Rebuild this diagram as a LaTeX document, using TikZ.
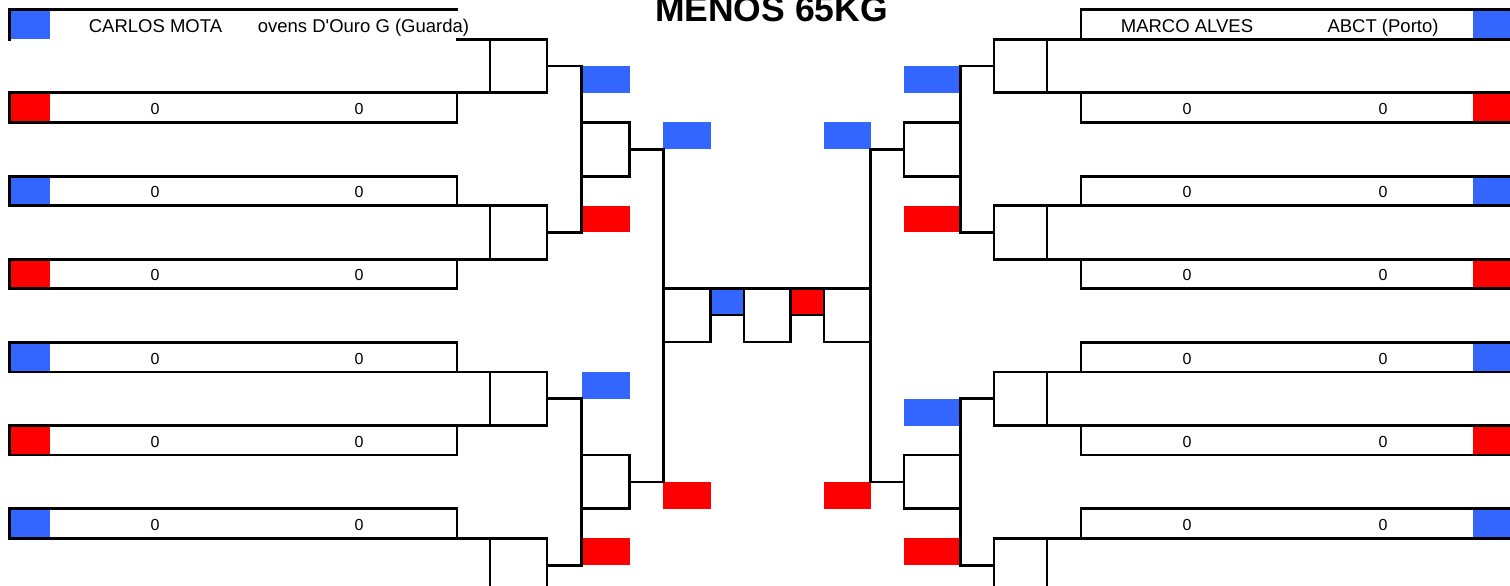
\documentclass[tikz,border=0pt]{standalone}
\usepackage{fontspec}
\setmainfont{Liberation Sans}
\newfontfamily\plainsans{Liberation Sans}
\definecolor{cblue}{HTML}{3366FF}
\definecolor{cred}{HTML}{FF0000}
\tikzset{
  ln/.style={line width=1.45pt, line cap=rect, draw=black},
  rowL/.style={rectangle, inner sep=0pt, outer sep=0pt, anchor=north west, minimum width=223.75pt, minimum height=14.75pt},
  rowR/.style={rowL, minimum width=219.5pt},
  mbox/.style={rectangle, ln, inner sep=0pt, outer sep=0pt, anchor=north west, minimum width=28.5pt, minimum height=26.75pt},
  mboxR/.style={mbox, minimum width=26.5pt},
  sboxL/.style={mbox, minimum width=24pt, minimum height=26.95pt},
  sboxR/.style={mbox, minimum width=28.25pt, minimum height=26.95pt},
  cbox/.style={mbox, minimum height=26.7pt},
  cell/.style={rectangle, ln, inner sep=0pt, outer sep=0pt, anchor=north west, minimum width=16.75pt, minimum height=13.2pt},
  nm/.style={inner sep=0pt, anchor=base, font=\plainsans\fontsize{9.25pt}{11pt}\selectfont},
  sc/.style={inner sep=0pt, anchor=base, font=\fontsize{8pt}{10pt}\selectfont},
  ttl/.style={inner sep=0pt, anchor=base, font=\fontsize{17.75pt}{20pt}\selectfont\bfseries},
}
\begin{document}
\begin{tikzpicture}[x=0.5pt,y=-0.5pt]
\useasboundingbox (0,0) rectangle (1510,585);
\clip (0,0) rectangle (1510,585);

% ---------- first round rows and match boxes ----------
\foreach \k in {0,1,2,3} {
  \pgfmathsetmacro{\ty}{9.7+166.4*\k}
  \pgfmathsetmacro{\uy}{\ty+83}
  \pgfmathsetmacro{\my}{\ty+29.5}
  \node[rowL] (LB\k) at (9.5,\ty) {};
  \node[rowL] (LR\k) at (9.5,\uy) {};
  \node[rowR] (RB\k) at (1081,\ty) {};
  \node[rowR] (RR\k) at (1081,\uy) {};
  % colour flags
  \fill[cblue] (LB\k.north west) rectangle ++(40.5,29.5);
  \fill[cred]  (LR\k.north west) rectangle ++(40.5,29.5);
  \fill[cblue] (1473,\ty) rectangle (1515,{\ty+29.5});
  \fill[cred]  (1473,\uy) rectangle (1515,{\uy+29.5});
  % match boxes
  \node[mbox] (LM\k) at (490,\my) {};
  \node[mboxR] (RM\k) at (994,\my) {};
  % left borders
  \ifnum\k=0
    \draw[ln] (LB\k.north east) -- (LB\k.north west) -- (LB\k.south west);
  \else
    \draw[ln] (LB\k.south west) rectangle (LB\k.north east);
  \fi
  \draw[ln] (LB\k.south east) -- (LM\k.north west);
  \draw[ln] (LR\k.south west) rectangle (LR\k.north east);
  \draw[ln] (LR\k.north east) -- (LM\k.south west);
  % right borders
  \draw[ln] (RB\k.north east) -- (RB\k.north west) -- (RB\k.south west) -- (RB\k.south east);
  \draw[ln] (RB\k.south west) -- (RM\k.north east);
  \draw[ln] (RR\k.north east) -- (RR\k.north west) -- (RR\k.south west) -- (RR\k.south east);
  \draw[ln] (RR\k.north west) -- (RM\k.south east);
  % scores
  \ifnum\k>0
    \node[sc] (LBa\k) at (155,{\ty+21.5}) {0};
    \node[sc] (LBb\k) at (359,{\ty+21.5}) {0};
    \node[sc] (RBa\k) at (1187,{\ty+21.5}) {0};
    \node[sc] (RBb\k) at (1383,{\ty+21.5}) {0};
  \fi
  \ifnum\k<3
    \node[sc] (LRa\k) at (155,{\uy+21.5}) {0};
    \node[sc] (LRb\k) at (359,{\uy+21.5}) {0};
    \node[sc] (RRa\k) at (1187,{\uy+21.5}) {0};
    \node[sc] (RRb\k) at (1383,{\uy+21.5}) {0};
  \fi
}

% names in first row
\node[nm] (n1) at (155.5,32.3) {CARLOS MOTA};
\node[nm] (c1) at (363.5,32.3) {ovens D'Ouro G (Guarda)};
\node[nm] (n2) at (1187,32.3) {MARCO ALVES};
\node[nm] (c2) at (1383,32.3) {ABCT (Porto)};

% title
\node[ttl] (T) at (771.5,21.7) {MENOS 65KG};

% ---------- second round flags ----------
\fill[cblue] (581.5,66) rectangle (630,92.7);
\fill[cred]  (581.5,205.6) rectangle (630,232.4);
\fill[cblue] (581.5,372) rectangle (630,398.8);
\fill[cred]  (581.5,538.4) rectangle (630,565.2);
\fill[cblue] (904,66) rectangle (960.5,92.7);
\fill[cred]  (904,205.6) rectangle (960.5,232.4);
\fill[cblue] (904,398.8) rectangle (960.5,425.5);
\fill[cred]  (904,538.4) rectangle (960.5,565.2);

% ---------- third round flags ----------
\fill[cblue] (663.3,122.2) rectangle (710.5,149.1);
\fill[cred]  (663.3,482) rectangle (710.5,509);
\fill[cblue] (824,122.2) rectangle (870.7,149.1);
\fill[cred]  (824,482) rectangle (870.7,509);

% ---------- second round boxes ----------
\node[sboxL] (LS0) at (581.5,122.2) {};
\node[sboxL] (LS1) at (581.5,455) {};
\node[sboxR] (RS0) at (904,122.2) {};
\node[sboxR] (RS1) at (904,455) {};

% connectors round 1 -> round 2
\draw[ln] (LM0.east) -- ++(34.5,0) |- (LM1.east);
\draw[ln] (LM2.east) -- ++(34.5,0) |- (LM3.east);
\draw[ln] (RM0.west) -- ++(-33.5,0) |- (RM1.west);
\draw[ln] (RM2.west) -- ++(-33.5,0) |- (RM3.west);

% connectors round 2 -> round 3
\draw[ln] (LS0.east) -- ++(33.8,0) |- (LS1.east);
\draw[ln] (RS0.west) -- ++(-33.3,0) |- (RS1.west);

% ---------- final ----------
\node[cbox, minimum width=23.6pt] (C1) at (663.3,288.6) {};
\node[cell, fill=cblue] (CB) at (710.5,288.6) {};
\node[cbox, minimum width=23.25pt] (C2) at (744,288.6) {};
\node[cell, fill=cred] (CR) at (790.5,288.6) {};
\node[cbox, minimum width=23.35pt] (C3) at (824,288.6) {};
\end{tikzpicture}
\end{document}
